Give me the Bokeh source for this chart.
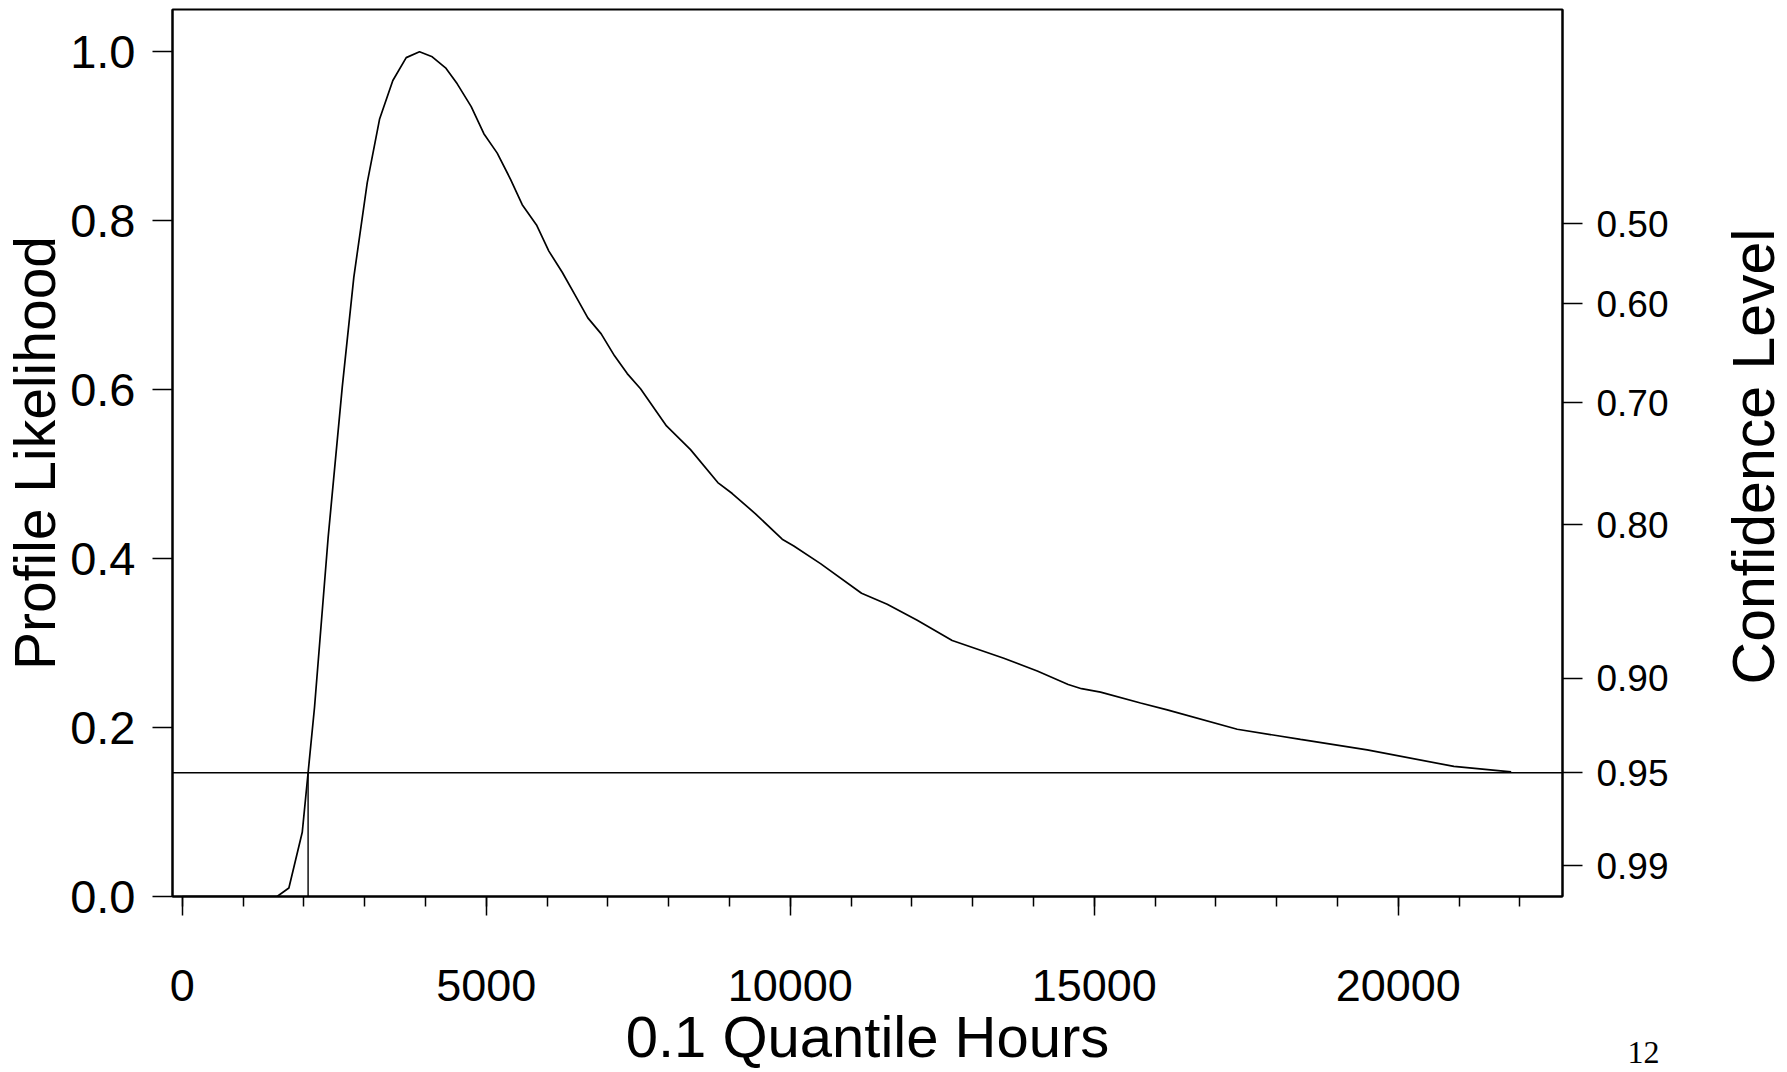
import math
from statistics import NormalDist

from bokeh.plotting import figure
from bokeh.layouts import column
from bokeh.models import (LinearAxis, FixedTicker, PrintfTickFormatter, Span,
                          Label, Range1d)
from bokeh.embed import file_html
from bokeh.resources import INLINE

# ---- data ----
quantile_hours = [0, 1000, 1560, 1754, 1974, 2176, 2400, 2632, 2822, 3043,
                  3245, 3464, 3684, 3903, 4112, 4331, 4523, 4753, 4961, 5181,
                  5400, 5592, 5827, 6030, 6250, 6469, 6671, 6891, 7110, 7319,
                  7538, 7965, 8360, 8809, 9046, 9429, 9868, 10059, 10498,
                  11173, 11595, 12089, 12664, 13513, 14063, 14572, 14791,
                  15104, 15762, 16201, 17352, 18393, 19490, 20915, 21858]
profile_likelihood = [0.0, 0.0, 0.0, 0.010, 0.076, 0.224, 0.425, 0.603, 0.733,
                      0.845, 0.920, 0.966, 0.993, 1.000, 0.994, 0.981, 0.962,
                      0.935, 0.903, 0.880, 0.849, 0.819, 0.795, 0.764, 0.739,
                      0.711, 0.685, 0.666, 0.640, 0.619, 0.601, 0.557, 0.529,
                      0.490, 0.477, 0.453, 0.423, 0.415, 0.394, 0.359, 0.346,
                      0.327, 0.303, 0.282, 0.267, 0.251, 0.246, 0.242, 0.229,
                      0.221, 0.198, 0.186, 0.1736, 0.154, 0.1475]

left_ticks = [0.0, 0.2, 0.4, 0.6, 0.8, 1.0]
confidence_levels = [0.50, 0.60, 0.70, 0.80, 0.90, 0.95, 0.99]
confidence_labels = ["0.50", "0.60", "0.70", "0.80", "0.90", "0.95", "0.99"]
x_major_ticks = [0, 5000, 10000, 15000, 20000]
x_minor_ticks = [0, 1000, 2000, 3000, 4000, 5000, 6000, 7000, 8000, 9000,
                 10000, 11000, 12000, 13000, 14000, 15000, 16000, 17000,
                 18000, 19000, 20000, 21000, 22000]
interval_level = 0.95
x_title = "0.1 Quantile Hours"
left_title = "Profile Likelihood"
right_title = "Confidence Level"
page_number = "12"


def lr_level(c):
    z = NormalDist().inv_cdf((1 + c) / 2)
    return math.exp(-z * z / 2)


conf_positions = [round(lr_level(c), 6) for c in confidence_levels]
ci_level = round(lr_level(interval_level), 6)

# lower interval bound: where the rising curve crosses the 95% level
ci_lower = None
for i in range(1, len(quantile_hours)):
    y0, y1 = profile_likelihood[i - 1], profile_likelihood[i]
    if y0 < ci_level <= y1:
        x0, x1 = quantile_hours[i - 1], quantile_hours[i]
        ci_lower = x0 + (ci_level - y0) / (y1 - y0) * (x1 - x0)
        break

FONT = "Liberation Sans"
INK = "black"
W, H = 1787, 1072

p = figure(width=W, height=H,
           x_range=Range1d(-160, 22702), y_range=Range1d(0, 1.05),
           output_backend="svg", toolbar_location=None,
           x_axis_label=x_title, y_axis_label=left_title,
           min_border_left=172, min_border_right=225,
           min_border_top=9, min_border_bottom=176)
p.grid.visible = False
p.outline_line_color = INK
p.outline_line_width = 2
p.background_fill_color = "white"
p.border_fill_color = "white"

# bottom axis
xa = p.xaxis[0]
xa.ticker = FixedTicker(ticks=x_major_ticks, minor_ticks=x_minor_ticks)
xa.axis_line_width = 2
xa.axis_line_color = INK
xa.major_tick_in = 0
xa.major_tick_out = 19
xa.minor_tick_in = 0
xa.minor_tick_out = 10
xa.major_tick_line_width = 1.5
xa.minor_tick_line_width = 1.5
xa.major_tick_line_color = INK
xa.minor_tick_line_color = INK
xa.major_label_text_font = FONT
xa.major_label_text_font_size = "45px"
xa.major_label_text_color = INK
xa.major_label_standoff = 54
xa.axis_label_text_font = FONT
xa.axis_label_text_font_size = "58px"
xa.axis_label_text_font_style = "normal"
xa.axis_label_text_color = INK
xa.axis_label_standoff = 0

# left axis
ya = p.yaxis[0]
ya.ticker = FixedTicker(ticks=left_ticks)
ya.formatter = PrintfTickFormatter(format="%.1f")
ya.axis_line_width = 2
ya.axis_line_color = INK
ya.major_tick_in = 0
ya.major_tick_out = 20
ya.major_tick_line_width = 1.5
ya.major_tick_line_color = INK
ya.minor_tick_line_color = None
ya.major_label_text_font = FONT
ya.major_label_text_font_size = "47px"
ya.major_label_text_color = INK
ya.major_label_standoff = 17
ya.axis_label_text_font = FONT
ya.axis_label_text_font_size = "57px"
ya.axis_label_text_font_style = "normal"
ya.axis_label_text_color = INK
ya.axis_label_standoff = 0

# right axis: confidence levels
ra = LinearAxis(ticker=FixedTicker(ticks=conf_positions),
                major_label_overrides={pos: lab for pos, lab in
                                       zip(conf_positions, confidence_labels)})
ra.axis_line_width = 2
ra.axis_line_color = INK
ra.major_tick_in = 0
ra.major_tick_out = 20
ra.major_tick_line_width = 1.5
ra.major_tick_line_color = INK
ra.minor_tick_line_color = None
ra.major_label_text_font = FONT
ra.major_label_text_font_size = "37px"
ra.major_label_text_color = INK
ra.major_label_standoff = 14
p.add_layout(ra, "right")

# curve, 95% level and lower bound
p.line(quantile_hours, profile_likelihood, line_color=INK, line_width=1.7)
p.add_layout(Span(location=ci_level, dimension="width",
                  line_color=INK, line_width=1.6))
p.segment(x0=[ci_lower], y0=[0], x1=[ci_lower], y1=[ci_level],
          line_color=INK, line_width=1.4)

# transparent overlay strip on the right edge carrying the right-hand title
# (reading bottom-to-top) and the page number; in this configuration the
# strip's screen origin was measured at x = 1562 on the page
OV_LEFT, OV_TOP = 1620, 216
ov = figure(width=W - OV_LEFT, height=H - OV_TOP,
            output_backend="svg", toolbar_location=None,
            x_axis_location=None, y_axis_location=None,
            min_border=0, x_range=Range1d(0, 1), y_range=Range1d(0, 1))
ov.grid.visible = False
ov.outline_line_color = None
ov.background_fill_alpha = 0
ov.border_fill_alpha = 0
ov.add_layout(Label(x=191, y=616, x_units="screen", y_units="screen",
                    text=right_title, angle=math.pi / 2,
                    text_font=FONT, text_font_size="59px",
                    text_align="center", text_baseline="middle",
                    text_color=INK))
ov.add_layout(Label(x=65, y=20, x_units="screen", y_units="screen",
                    text=page_number, text_font="Liberation Serif",
                    text_font_size="32px", text_align="left",
                    text_baseline="alphabetic", text_color=INK))
ov.margin = (-(H - OV_TOP), 0, 0, OV_LEFT)

layout = column(p, ov, spacing=0)
open("out.html", "w").write(file_html(layout, INLINE))
